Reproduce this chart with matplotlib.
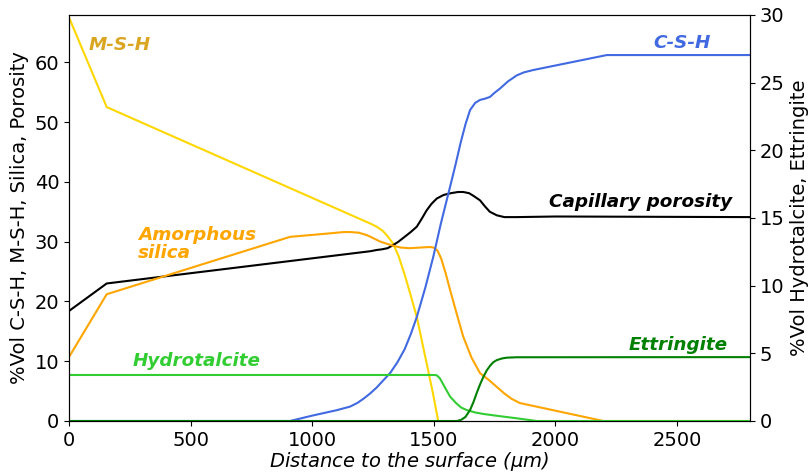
import numpy as np
import matplotlib.pyplot as plt

# distance to surface (um) and %vol per phase
msh_x = [0, 155, 1240, 1265, 1290, 1310, 1332, 1355, 1380, 1405, 1430, 1455, 1475, 1497, 1518]
msh_y = [67.5, 52.5, 33.0, 32.5, 31.8, 30.9, 29.7, 27.6, 24.5, 21.0, 17.4, 12.6, 8.8, 4.5, 0.0]

por_x = [0, 155, 1240, 1265, 1285, 1310, 1332, 1355, 1380, 1405, 1430, 1450, 1470, 1490, 1512, 1540,
         1570, 1600, 1621, 1645, 1665, 1690, 1710, 1730, 1759, 1790, 1841, 2000, 2800]
por_y = [18.4, 23.0, 28.4, 28.6, 28.7, 28.9, 29.4, 30.0, 30.8, 31.6, 32.5, 33.8, 35.2, 36.3, 37.2, 37.8,
         38.1, 38.3, 38.3, 38.1, 37.6, 36.9, 35.9, 35.0, 34.4, 34.1, 34.1, 34.2, 34.1]

sil_x = [0, 155, 909, 1050, 1130, 1155, 1190, 1224, 1255, 1280, 1310, 1334, 1365, 1402, 1440, 1484, 1500,
         1515, 1530, 1548, 1567, 1595, 1621, 1655, 1690, 1725, 1759, 1790, 1820, 1854, 2197, 2800]
sil_y = [10.7, 21.2, 30.8, 31.3, 31.6, 31.6, 31.5, 31.1, 30.5, 30.0, 29.6, 29.3, 29.0, 28.9, 29.0, 29.1, 29.0,
         28.5, 27.2, 24.8, 21.9, 17.8, 14.1, 10.6, 8.0, 6.9, 5.7, 4.6, 3.7, 3.0, 0.0, 0.0]

csh_x = [0, 909, 1000, 1100, 1155, 1185, 1210, 1238, 1265, 1290, 1320, 1350, 1380, 1405, 1430, 1465,
         1498, 1530, 1567, 1590, 1610, 1630, 1649, 1670, 1690, 1710, 1731, 1750, 1772, 1805, 1841, 1870,
         1909, 2211, 2800]
csh_y = [0.0, 0.0, 0.9, 1.8, 2.4, 3.0, 3.7, 4.6, 5.6, 6.7, 8.0, 9.8, 12.0, 14.5, 17.4, 22.3,
         27.5, 33.2, 39.2, 43.0, 46.5, 49.6, 52.0, 53.2, 53.7, 53.9, 54.2, 54.9, 55.6, 56.8, 57.8, 58.3,
         58.7, 61.2, 61.2]

hyd_x = [0, 1500, 1512, 1525, 1545, 1567, 1590, 1612, 1635, 1670, 1704, 1770, 1841, 1923, 2800]
hyd_y = [3.4, 3.4, 3.38, 3.15, 2.5, 1.8, 1.35, 1.0, 0.81, 0.63, 0.52, 0.36, 0.2, 0.0, 0.0]

ett_x = [0, 1594, 1612, 1630, 1649, 1663, 1677, 1690, 1704, 1718, 1732, 1745, 1759, 1780, 1800, 1841, 2800]
ett_y = [0.0, 0.0, 0.08, 0.3, 0.81, 1.4, 2.1, 2.7, 3.27, 3.75, 4.1, 4.35, 4.5, 4.62, 4.68, 4.71, 4.72]

plt.rcParams['font.size'] = 14

fig = plt.figure(figsize=(8.08, 4.72), dpi=100)
ax = fig.add_axes([69 / 808, 1 - 421 / 472, (750 - 69) / 808, (421 - 15) / 472])
ax2 = ax.twinx()

ax.plot(msh_x, msh_y, color='gold', lw=1.5)
ax.plot(por_x, por_y, color='black', lw=1.5)
ax.plot(sil_x, sil_y, color='orange', lw=1.5)
ax.plot(csh_x, csh_y, color='royalblue', lw=1.5)
ax2.plot(hyd_x, hyd_y, color='limegreen', lw=1.5)
ax2.plot(ett_x, ett_y, color='green', lw=1.5)

ax.set_xlim(0, 2800)
ax.set_ylim(0, 67.9)
ax2.set_ylim(0, 30)

ax.set_xlabel('Distance to the surface ($\\mu m$)', style='italic', labelpad=0)
ax.set_ylabel('%Vol C-S-H, M-S-H, Silica, Porosity')
ax2.set_ylabel('%Vol Hydrotalcite, Ettringite')

lab = dict(fontsize=13.2, fontweight='bold', style='italic')
ax.text(210, 62.8, 'M-S-H', color='goldenrod', ha='center', va='center', **lab)
ax.text(2520, 63.3, 'C-S-H', color='royalblue', ha='center', va='center', **lab)
ax.text(2348, 36.6, 'Capillary porosity', color='black', ha='center', va='center', **lab)
ax.text(284, 29.6, 'Amorphous\nsilica', color='orange', ha='left', va='center', linespacing=1.05, **lab)
ax.text(526, 10.0, 'Hydrotalcite', color='limegreen', ha='center', va='center', **lab)
ax.text(2504, 12.7, 'Ettringite', color='green', ha='center', va='center', **lab)

fig.savefig('out.png', dpi=100)
